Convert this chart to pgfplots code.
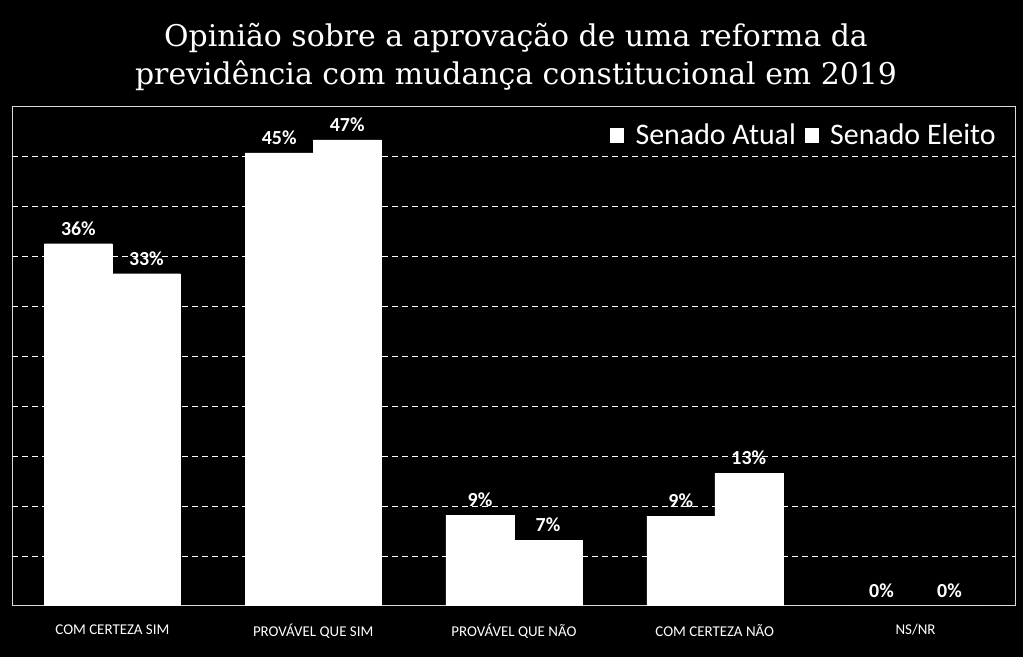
\documentclass[border=0pt]{standalone}
\usepackage{pgfplots}
\pgfplotsset{compat=1.18}
\usepackage{fontspec}
\setmainfont{Carlito}
\newfontfamily\titlefont{DejaVu Serif}
\begin{document}
\begin{tikzpicture}[x=1bp,y=1bp]
\fill[black] (0,0) rectangle (1023,657);
\node[text=white,font=\titlefont\fontsize{30}{38}\selectfont,align=center] at (516,600) {Opinião sobre a aprovação de uma reforma da\\previdência com mudança constitucional em 2019};
\begin{axis}[
  at={(12bp,51bp)}, anchor=south west,
  width=1004bp, height=499bp, scale only axis,
  xmin=-0.5, xmax=4.5, ymin=0, ymax=50,
  ybar=0pt, bar width=68bp,
  xtick={0,1,2,3,4},
  xticklabels={COM CERTEZA SIM,PROVÁVEL QUE SIM,PROVÁVEL QUE NÃO,COM CERTEZA NÃO,NS/NR},
  ytick={5,10,...,45}, yticklabels={},
  major tick length=0pt,
  /pgf/number format/assume math mode=true,
  ymajorgrids, grid style={white, dashed, line width=0.9pt, dash pattern=on 6bp off 4bp},
  axis line style={white!85!black, line width=1pt},
  xticklabel style={text=white, font=\fontsize{15}{17}\selectfont, yshift=-15bp},
  nodes near coords={\pgfmathprintnumber[fixed,precision=0]{\pgfplotspointmeta}\%},
  every node near coord/.append style={text=white, font=\bfseries\fontsize{20}{22}\selectfont, anchor=south, yshift=5bp},
  legend style={draw=none, fill=none, text=white, font=\fontsize{30}{32}\selectfont, at={(0.985,0.975)}, anchor=north east, legend columns=2, /tikz/every even column/.append style={column sep=7bp}, /tikz/every odd column/.append style={column sep=10bp}},
  legend image code/.code={\fill[white] (0bp,-7bp) rectangle (13bp,7bp);},
]
\addplot[fill=white, draw=white, line width=0.3pt] coordinates {(0,36.3) (1,45.4) (2,9.1) (3,9.0) (4,0)};
\addplot[fill=white, draw=white, line width=0.3pt] coordinates {(0,33.3) (1,46.7) (2,6.6) (3,13.3) (4,0)};
\legend{Senado Atual, Senado Eleito}
\end{axis}
\end{tikzpicture}
\end{document}
